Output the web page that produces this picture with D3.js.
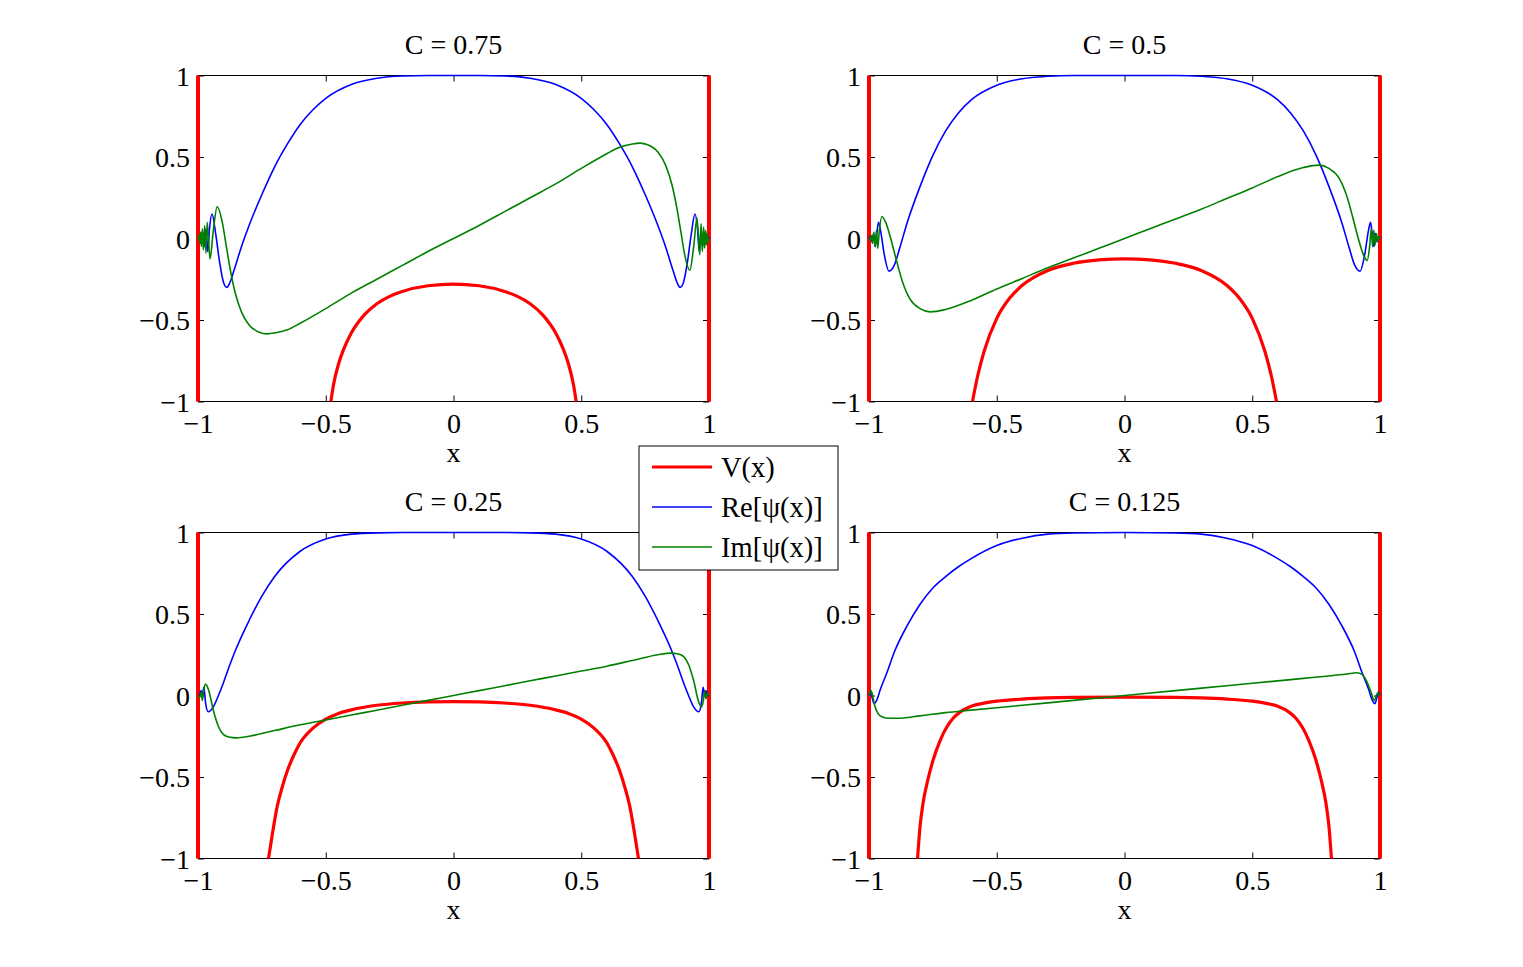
<!DOCTYPE html>
<html>
<head>
<meta charset="utf-8">
<script src="https://cdn.jsdelivr.net/npm/d3@7"></script>
<style>
  body { margin: 0; background: #fff; }
  svg text { font-family: "Liberation Serif", "Times New Roman", serif; fill: #000; }
</style>
</head>
<body>
<div id="chart"></div>
<script>
///// Data

let titles = ["C = 0.75", "C = 0.5", "C = 0.25", "C = 0.125"],
    xTicks = [-1, -0.5, 0, 0.5, 1],
    yTicks = [-1, -0.5, 0, 0.5, 1],
    walls = [-1, 1],
    legendLabels = ["V(x)", "Re[\u03c8(x)]", "Im[\u03c8(x)]"];

// C = 0.75
let v075 = [[-0.48,-1],[-0.47,-0.9],[-0.45,-0.77],[-0.43,-0.68],[-0.4,-0.58],[-0.35,-0.47],[-0.3,-0.4],[-0.25,-0.355],[-0.2,-0.325],[-0.1,-0.29],[0,-0.28],
            [0.1,-0.29],[0.2,-0.325],[0.25,-0.355],[0.3,-0.4],[0.35,-0.47],[0.4,-0.58],[0.43,-0.68],[0.45,-0.77],[0.47,-0.9],[0.48,-1]];
let re075 = [[-1,0],[-0.993,0.015],[-0.987,-0.03],[-0.981,0.04],[-0.975,-0.05],[-0.969,0.06],[-0.962,-0.08],[-0.955,0.06],[-0.945,0.15],[-0.93,0.02],[-0.915,-0.15],[-0.9,-0.27],[-0.887,-0.3],[-0.875,-0.27],[-0.86,-0.2],[-0.83,-0.05],[-0.8,0.08],[-0.75,0.27],[-0.7,0.44],[-0.65,0.58],[-0.6,0.7],[-0.55,0.79],[-0.5,0.86],[-0.4,0.945],[-0.3,0.983],[-0.2,0.997],[-0.1,1],[0,1],
             [0.1,1],[0.2,0.997],[0.3,0.983],[0.4,0.945],[0.5,0.86],[0.55,0.79],[0.6,0.7],[0.65,0.58],[0.7,0.44],[0.75,0.27],[0.8,0.08],[0.83,-0.05],[0.86,-0.2],[0.875,-0.27],[0.887,-0.3],[0.9,-0.27],[0.915,-0.15],[0.93,0.02],[0.945,0.15],[0.955,0.06],[0.962,-0.08],[0.969,0.06],[0.975,-0.05],[0.981,0.04],[0.987,-0.03],[0.993,0.015],[1,0]];
let im075 = [[-1,0],[-0.996,0.02],[-0.993,-0.03],[-0.99,0.04],[-0.987,-0.05],[-0.983,0.06],[-0.979,-0.07],[-0.974,0.08],[-0.969,-0.09],[-0.964,0.1],[-0.959,0],[-0.953,-0.125],[-0.94,0.05],[-0.925,0.195],[-0.905,0.1],[-0.89,-0.04],[-0.875,-0.18],[-0.855,-0.33],[-0.83,-0.45],[-0.8,-0.53],[-0.76,-0.575],[-0.73,-0.585],[-0.7,-0.58],[-0.65,-0.56],[-0.6,-0.52],[-0.5,-0.43],[-0.4,-0.335],[-0.3,-0.25],[-0.2,-0.165],[-0.1,-0.08],[0,0],
             [0.1,0.08],[0.2,0.165],[0.3,0.25],[0.4,0.335],[0.5,0.43],[0.6,0.52],[0.65,0.56],[0.7,0.58],[0.73,0.585],[0.76,0.575],[0.8,0.53],[0.83,0.45],[0.855,0.33],[0.875,0.18],[0.89,0.04],[0.905,-0.1],[0.925,-0.195],[0.94,-0.05],[0.953,0.125],[0.959,0],[0.964,-0.1],[0.969,0.09],[0.974,-0.08],[0.979,0.07],[0.983,-0.06],[0.987,0.05],[0.99,-0.04],[0.993,0.03],[0.996,-0.02],[1,0]];

// C = 0.5
let v05 = [[-0.595,-1],[-0.575,-0.845],[-0.55,-0.695],[-0.5,-0.49],[-0.45,-0.367],[-0.4,-0.287],[-0.3,-0.196],[-0.2,-0.152],[-0.1,-0.131],[0,-0.125],
           [0.1,-0.131],[0.2,-0.152],[0.3,-0.196],[0.4,-0.287],[0.45,-0.367],[0.5,-0.49],[0.55,-0.695],[0.575,-0.845],[0.595,-1]];
let re05 = [[-1,0],[-0.994,0.01],[-0.988,-0.02],[-0.982,0.03],[-0.976,-0.05],[-0.97,0.02],[-0.963,0.1],[-0.955,0.05],[-0.94,-0.1],[-0.922,-0.2],[-0.9,-0.16],[-0.88,-0.06],[-0.85,0.1],[-0.8,0.32],[-0.75,0.51],[-0.7,0.66],[-0.65,0.77],[-0.6,0.85],[-0.5,0.94],[-0.4,0.98],[-0.3,0.995],[-0.2,1],[0,1],
            [0.2,1],[0.3,0.995],[0.4,0.98],[0.5,0.94],[0.6,0.85],[0.65,0.77],[0.7,0.66],[0.75,0.51],[0.8,0.32],[0.85,0.1],[0.88,-0.06],[0.9,-0.16],[0.922,-0.2],[0.94,-0.1],[0.955,0.05],[0.963,0.1],[0.97,0.02],[0.976,-0.05],[0.982,0.03],[0.988,-0.02],[0.994,0.01],[1,0]];
let im05 = [[-1,0],[-0.996,-0.01],[-0.991,0.02],[-0.986,-0.03],[-0.981,0.04],[-0.976,-0.05],[-0.971,0.05],[-0.966,-0.06],[-0.96,0.04],[-0.95,0.135],[-0.935,0.1],[-0.915,0],[-0.895,-0.12],[-0.87,-0.26],[-0.84,-0.37],[-0.8,-0.43],[-0.76,-0.45],[-0.7,-0.435],[-0.6,-0.38],[-0.5,-0.31],[-0.4,-0.245],[-0.3,-0.18],[-0.2,-0.12],[-0.1,-0.06],[0,0],
            [0.1,0.06],[0.2,0.12],[0.3,0.18],[0.4,0.245],[0.5,0.31],[0.6,0.38],[0.7,0.435],[0.76,0.45],[0.8,0.43],[0.84,0.37],[0.87,0.26],[0.895,0.12],[0.915,0],[0.935,-0.1],[0.95,-0.135],[0.96,-0.04],[0.966,0.06],[0.971,-0.05],[0.976,0.05],[0.981,-0.04],[0.986,0.03],[0.991,-0.02],[0.996,0.01],[1,0]];

// C = 0.25
let v025 = [[-0.724,-1],[-0.71,-0.86],[-0.69,-0.68],[-0.67,-0.56],[-0.65,-0.46],[-0.62,-0.35],[-0.6,-0.29],[-0.55,-0.2],[-0.5,-0.145],[-0.45,-0.11],[-0.4,-0.088],[-0.3,-0.06],[-0.2,-0.046],[-0.1,-0.039],[0,-0.037],
            [0.1,-0.039],[0.2,-0.046],[0.3,-0.06],[0.4,-0.088],[0.45,-0.11],[0.5,-0.145],[0.55,-0.2],[0.6,-0.29],[0.62,-0.35],[0.65,-0.46],[0.67,-0.56],[0.69,-0.68],[0.71,-0.86],[0.724,-1]];
let re025 = [[-1,0],[-0.994,0],[-0.988,0.03],[-0.983,0],[-0.977,0.05],[-0.97,-0.05],[-0.96,-0.1],[-0.94,-0.07],[-0.92,0],[-0.9,0.08],[-0.875,0.19],[-0.85,0.29],[-0.8,0.46],[-0.75,0.61],[-0.7,0.73],[-0.6,0.885],[-0.5,0.96],[-0.4,0.99],[-0.3,0.998],[-0.2,1],[0,1],
             [0.2,1],[0.3,0.998],[0.4,0.99],[0.5,0.96],[0.6,0.885],[0.7,0.73],[0.75,0.61],[0.8,0.46],[0.85,0.29],[0.875,0.19],[0.9,0.08],[0.92,0],[0.94,-0.07],[0.96,-0.1],[0.97,-0.05],[0.977,0.05],[0.983,0],[0.988,0.03],[0.994,0],[1,0]];
let im025 = [[-1,0],[-0.993,-0.01],[-0.988,0.02],[-0.983,-0.03],[-0.978,0.03],[-0.97,0.07],[-0.958,0.03],[-0.94,-0.09],[-0.92,-0.19],[-0.9,-0.24],[-0.88,-0.255],[-0.85,-0.26],[-0.8,-0.25],[-0.7,-0.215],[-0.6,-0.18],[-0.5,-0.15],[-0.4,-0.12],[-0.3,-0.09],[-0.2,-0.06],[-0.1,-0.03],[0,0],
             [0.1,0.03],[0.2,0.06],[0.3,0.09],[0.4,0.12],[0.5,0.15],[0.6,0.18],[0.7,0.215],[0.8,0.25],[0.85,0.26],[0.88,0.255],[0.9,0.24],[0.92,0.19],[0.94,0.09],[0.958,-0.03],[0.97,-0.07],[0.978,-0.03],[0.983,0.03],[0.988,-0.02],[0.993,0.01],[1,0]];

// C = 0.125
let v0125 = [[-0.81,-1],[-0.8,-0.8],[-0.789,-0.665],[-0.77,-0.52],[-0.75,-0.4],[-0.72,-0.27],[-0.696,-0.195],[-0.67,-0.138],[-0.644,-0.102],[-0.6,-0.066],[-0.55,-0.047],[-0.5,-0.035],[-0.4,-0.022],[-0.3,-0.015],[-0.2,-0.012],[0,-0.01],
             [0.2,-0.012],[0.3,-0.015],[0.4,-0.022],[0.5,-0.035],[0.55,-0.047],[0.6,-0.066],[0.644,-0.102],[0.67,-0.138],[0.696,-0.195],[0.72,-0.27],[0.75,-0.4],[0.77,-0.52],[0.789,-0.665],[0.8,-0.8],[0.81,-1]];
let re0125 = [[-1,0],[-0.995,0.02],[-0.99,0],[-0.98,-0.05],[-0.97,-0.03],[-0.955,0.04],[-0.93,0.14],[-0.9,0.27],[-0.85,0.43],[-0.8,0.56],[-0.75,0.66],[-0.7,0.73],[-0.65,0.79],[-0.6,0.84],[-0.5,0.92],[-0.4,0.965],[-0.3,0.99],[-0.2,0.997],[0,1],
              [0.2,0.997],[0.3,0.99],[0.4,0.965],[0.5,0.92],[0.6,0.84],[0.65,0.79],[0.7,0.73],[0.75,0.66],[0.8,0.56],[0.85,0.43],[0.9,0.27],[0.93,0.14],[0.955,0.04],[0.97,-0.03],[0.98,-0.05],[0.99,0],[0.995,0.02],[1,0]];
let im0125 = [[-1,0],[-0.992,0.03],[-0.986,0],[-0.978,-0.06],[-0.965,-0.11],[-0.95,-0.13],[-0.92,-0.14],[-0.89,-0.14],[-0.8,-0.125],[-0.7,-0.105],[-0.6,-0.09],[-0.4,-0.06],[-0.2,-0.03],[0,0],
              [0.2,0.03],[0.4,0.06],[0.6,0.09],[0.7,0.105],[0.8,0.12],[0.87,0.132],[0.91,0.14],[0.93,0.13],[0.95,0.08],[0.965,0.02],[0.978,-0.03],[0.986,0],[0.992,0.02],[1,0]];

let vData = [v075, v05, v025, v0125],
    reData = [re075, re05, re025, re0125],
    imData = [im075, im05, im025, im0125];

///// Layout

let W = 1523, H = 967,
    colX = [198, 869],
    rowY = [75.5, 532.5],
    pw = 511, ph = 326,
    fontSize = 28,
    legendFont = 28.5;

let red = "#ff0000", blue = "#0000ff", green = "#008000";

let svg = d3.select("#chart")
    .append("svg")
    .attr("width", W)
    .attr("height", H);

function fmt(d) {
    return (d < 0 ? "\u2212" : "") + Math.abs(d);
}

for (let i = 0; i < 4; i++) {

    let ox = colX[i % 2],
        oy = rowY[Math.floor(i / 2)];

    let x = d3.scaleLinear().domain([-1, 1]).range([0, pw]);
    let y = d3.scaleLinear().domain([-1, 1]).range([ph, 0]);

    let g = svg.append("g")
        .attr("transform", "translate(" + ox + "," + oy + ")");

    // box
    g.append("rect")
        .attr("width", pw)
        .attr("height", ph)
        .attr("fill", "none")
        .attr("stroke", "#000")
        .attr("stroke-width", 1);

    // axes, ticks pointing inward on all four sides
    let xb = g.append("g")
        .attr("transform", "translate(0," + ph + ")")
        .call(d3.axisBottom(x).tickValues(xTicks).tickSizeInner(-6).tickSizeOuter(0).tickPadding(12).tickFormat(fmt));
    let xt = g.append("g")
        .call(d3.axisTop(x).tickValues(xTicks).tickSizeInner(-6).tickSizeOuter(0).tickFormat(""));
    let yl = g.append("g")
        .call(d3.axisLeft(y).tickValues(yTicks).tickSizeInner(-6).tickSizeOuter(0).tickPadding(8).tickFormat(fmt));
    let yr = g.append("g")
        .attr("transform", "translate(" + pw + ",0)")
        .call(d3.axisRight(y).tickValues(yTicks).tickSizeInner(-6).tickSizeOuter(0).tickFormat(""));

    [xb, xt, yl, yr].forEach(a => {
        a.select(".domain").remove();
        a.selectAll("text")
            .attr("font-size", fontSize)
            .style("font-family", "'Liberation Serif', serif");
        a.selectAll("line").attr("stroke", "#000");
    });
    yl.selectAll("text").attr("dy", "0.35em");

    // title and x label
    g.append("text")
        .attr("x", pw / 2)
        .attr("y", -22)
        .attr("text-anchor", "middle")
        .attr("font-size", fontSize)
        .text(titles[i]);

    g.append("text")
        .attr("x", pw / 2)
        .attr("y", ph + 60)
        .attr("text-anchor", "middle")
        .attr("font-size", fontSize)
        .text("x");

    let line = d3.line()
        .x(d => x(d[0]))
        .y(d => y(d[1]))
        .curve(d3.curveMonotoneX);

    // V(x): infinite walls + well
    g.selectAll(".wall")
        .data(walls)
        .enter().append("line")
        .attr("class", "wall")
        .attr("x1", d => x(d)).attr("x2", d => x(d))
        .attr("y1", y(1)).attr("y2", y(-1))
        .attr("stroke", red)
        .attr("stroke-width", 4);

    g.append("path")
        .attr("d", line(vData[i]))
        .attr("fill", "none")
        .attr("stroke", red)
        .attr("stroke-width", 3.2);

    g.append("path")
        .attr("d", line(reData[i]))
        .attr("fill", "none")
        .attr("stroke", blue)
        .attr("stroke-width", 1.6);

    g.append("path")
        .attr("d", line(imData[i]))
        .attr("fill", "none")
        .attr("stroke", green)
        .attr("stroke-width", 1.6);
}

///// Legend

let lg = svg.append("g").attr("transform", "translate(639,446)");

lg.append("rect")
    .attr("width", 199)
    .attr("height", 124)
    .attr("fill", "#fff")
    .attr("stroke", "#000")
    .attr("stroke-width", 1);

let legendColors = [red, blue, green],
    legendWidths = [3.2, 1.6, 1.6];

legendLabels.forEach((lab, k) => {
    let yy = 21 + k * 40;
    lg.append("line")
        .attr("x1", 13).attr("x2", 73)
        .attr("y1", yy).attr("y2", yy)
        .attr("stroke", legendColors[k])
        .attr("stroke-width", legendWidths[k]);
    lg.append("text")
        .attr("x", 82)
        .attr("y", yy)
        .attr("dy", "0.35em")
        .attr("font-size", legendFont)
        .text(lab);
});
</script>
</body>
</html>
